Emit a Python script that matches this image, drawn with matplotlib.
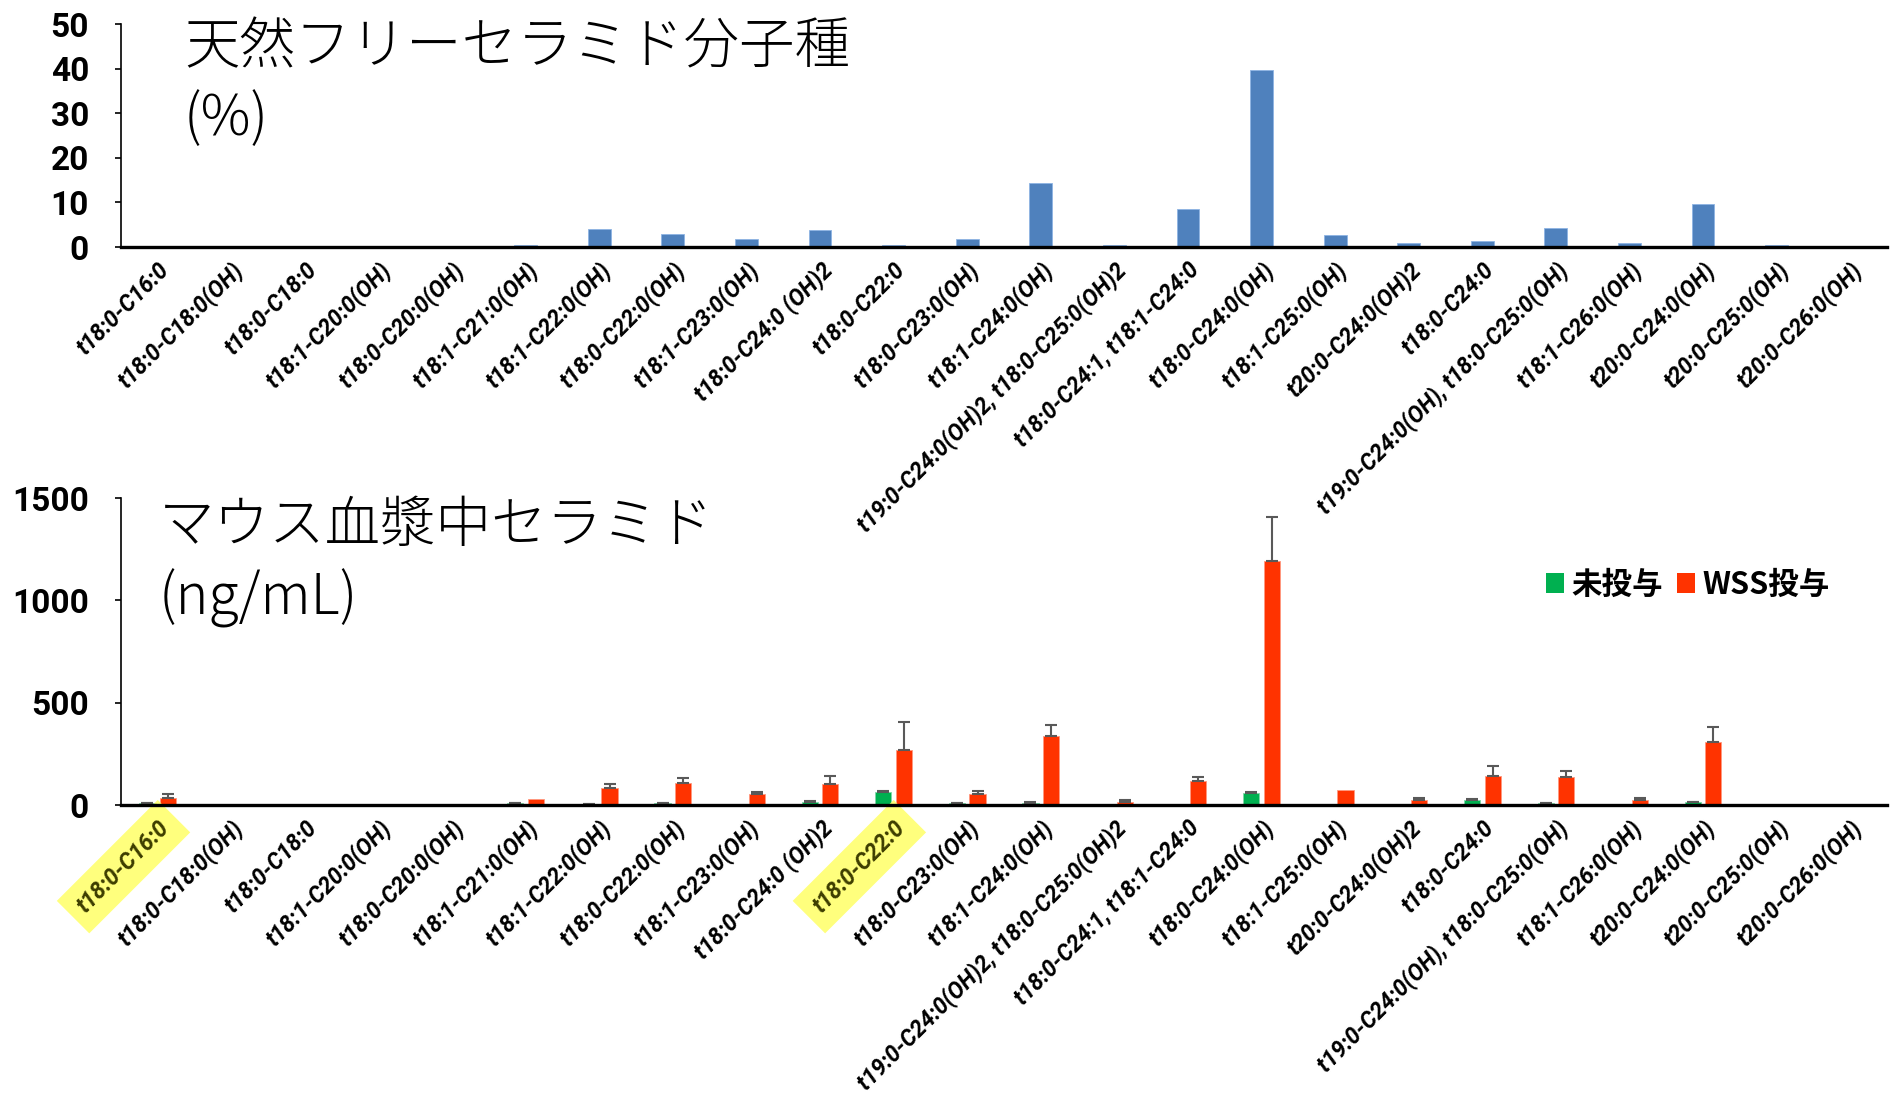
import numpy as np
import matplotlib
matplotlib.use("Agg")
import matplotlib.pyplot as plt
from matplotlib.patches import Patch

CJK = ['Noto Sans CJK JP', 'DejaVu Sans']
LATIN = ['Roboto', 'DejaVu Sans']

categories = [
    't18:0-C16:0', 't18:0-C18:0(OH)', 't18:0-C18:0', 't18:1-C20:0(OH)',
    't18:0-C20:0(OH)', 't18:1-C21:0(OH)', 't18:1-C22:0(OH)', 't18:0-C22:0(OH)',
    't18:1-C23:0(OH)', 't18:0-C24:0 (OH)2', 't18:0-C22:0', 't18:0-C23:0(OH)',
    't18:1-C24:0(OH)', 't19:0-C24:0(OH)2, t18:0-C25:0(OH)2',
    't18:0-C24:1, t18:1-C24:0', 't18:0-C24:0(OH)', 't18:1-C25:0(OH)',
    't20:0-C24:0(OH)2', 't18:0-C24:0', 't19:0-C24:0(OH), t18:0-C25:0(OH)',
    't18:1-C26:0(OH)', 't20:0-C24:0(OH)', 't20:0-C25:0(OH)', 't20:0-C26:0(OH)',
]

# natural free ceramide composition (%)
natural_pct = [0, 0, 0, 0, 0, 0.5, 4.0, 3.0, 1.8, 3.8, 0.5, 1.9,
               14.4, 0.5, 8.6, 39.7, 2.8, 0.8, 1.3, 4.2, 1.0, 9.6, 0.4, 0]

# mouse plasma ceramide (ng/mL)
untreated = [10, 0, 0, 0, 0, 8, 3, 8, 0, 16, 65, 10,
             11, 0, 0, 59, 0, 0, 24, 8, 0, 15, 0, 0]
untreated_err = [2, 0, 0, 0, 0, 2, 1, 2, 0, 3, 3, 2,
                 2, 0, 0, 3, 0, 0, 3, 2, 0, 2, 0, 0]
wss = [32, 0, 0, 0, 0, 28, 81, 109, 52, 104, 271, 55,
       336, 16, 115, 1192, 75, 24, 143, 135, 24, 309, 0, 0]
wss_err = [22, 0, 0, 0, 0, 0, 20, 24, 10, 36, 137, 13,
           56, 10, 20, 215, 0, 12, 49, 32, 10, 73, 0, 0]

highlighted = ['t18:0-C16:0', 't18:0-C22:0']

BLUE = '#4F81BD'
GREEN = '#00B050'
RED = '#FF3300'
ERR = '#595959'

fig = plt.figure(figsize=(18.99, 10.96), dpi=100)
ax1 = fig.add_axes([0.0637, 0.7746, 0.930, 0.2035])
ax2 = fig.add_axes([0.0637, 0.2655, 0.930, 0.2801])
# long labels of the upper chart run down into the lower one
ax2.patch.set_alpha(0)

x = np.arange(len(categories))


def style_axis(ax, ymax, yticks):
    ax.set_xlim(-0.5, len(categories) - 0.5)
    ax.set_ylim(0, ymax)
    ax.set_yticks(yticks)
    for side in ('top', 'right'):
        ax.spines[side].set_visible(False)
    ax.spines['left'].set_linewidth(1.2)
    ax.spines['bottom'].set_linewidth(2.4)
    ax.tick_params(axis='y', direction='out', length=4, width=1.2, pad=19)
    ax.tick_params(axis='x', length=0, pad=8)
    for lab in ax.get_yticklabels():
        lab.set_family(LATIN)
        lab.set_fontweight('bold')
        lab.set_fontsize(24)
    ax.set_xticks(x)
    ax.set_xticklabels(categories, rotation=45, ha='right', va='top',
                       rotation_mode='anchor', fontsize=16.5,
                       fontstyle='italic', fontweight='bold', family=LATIN)


# top: natural free ceramide species
ax1.bar(x, natural_pct, width=0.31, color=BLUE, edgecolor='#8EB4E3', linewidth=0.6)
style_axis(ax1, 50, [0, 10, 20, 30, 40, 50])
ax1.text(0.0357, 0.897, '天然フリーセラミド分子種', transform=ax1.transAxes,
         fontsize=40, family=CJK, fontweight='light', va='center', ha='left')
ax1.text(0.0357, 0.574, '(%)', transform=ax1.transAxes,
         fontsize=40, family=CJK, fontweight='light', va='center', ha='left')

# bottom: plasma ceramide, untreated vs WSS
off = 0.14
w = 0.22
ax2.bar(x - off, untreated, width=w, color=GREEN, edgecolor='#7FD7A7', linewidth=0.6)
ax2.bar(x + off, wss, width=w, color=RED, edgecolor='#FF9980', linewidth=0.6)

ue = np.array(untreated_err)
we = np.array(wss_err)
m = ue > 0
ax2.errorbar((x - off)[m], np.array(untreated)[m], yerr=[np.zeros(m.sum()), ue[m]],
             fmt='none', ecolor=ERR, elinewidth=1.5, capsize=4.3, capthick=1.5)
m = we > 0
ax2.errorbar((x + off)[m], np.array(wss)[m], yerr=[np.zeros(m.sum()), we[m]],
             fmt='none', ecolor=ERR, elinewidth=1.5, capsize=4.3, capthick=1.5)

style_axis(ax2, 1500, [0, 500, 1000, 1500])
for lab in ax2.get_xticklabels():
    if lab.get_text() in highlighted:
        lab.set_color('#3d3d00')
        lab.set_bbox(dict(boxstyle='square,pad=0.5', facecolor='#FFFF66',
                          edgecolor='none', alpha=0.85))

ax2.text(0.0215, 0.909, 'マウス血漿中セラミド', transform=ax2.transAxes,
         fontsize=40, family=CJK, fontweight='light', va='center', ha='left')
ax2.text(0.0215, 0.674, '(ng/mL)', transform=ax2.transAxes,
         fontsize=40, family=CJK, fontweight='light', va='center', ha='left')

handles = [Patch(facecolor=GREEN, edgecolor='none', label='未投与'),
           Patch(facecolor=RED, edgecolor='none', label='WSS投与')]
leg = ax2.legend(handles=handles, loc='center left', bbox_to_anchor=(0.798, 0.717),
                 ncol=2, frameon=False, handlelength=0.6, handleheight=0.6,
                 handletextpad=0.25, columnspacing=0.45, borderpad=0,
                 prop={'family': CJK, 'weight': 'bold', 'size': 22})

fig.savefig('out.png', dpi=100)
